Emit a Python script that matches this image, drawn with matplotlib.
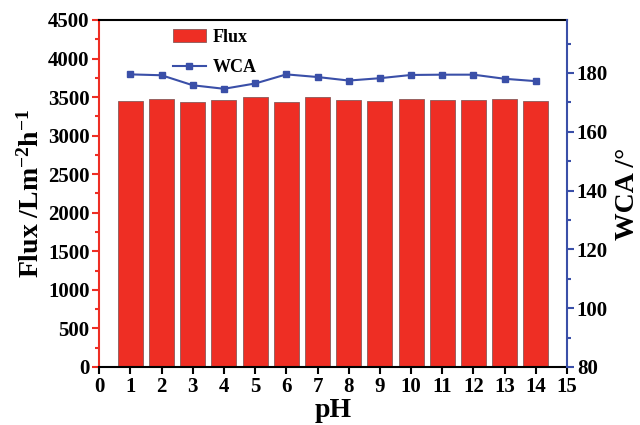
import matplotlib
matplotlib.use("Agg")
import matplotlib.pyplot as plt
from matplotlib.ticker import MultipleLocator

ph = [1, 2, 3, 4, 5, 6, 7, 8, 9, 10, 11, 12, 13, 14]
flux = [3450, 3478, 3441, 3459, 3498, 3441, 3498, 3459, 3450, 3476, 3459, 3459, 3478, 3450]
wca = [179.5, 179.2, 175.8, 174.6, 176.4, 179.5, 178.6, 177.4, 178.2, 179.3, 179.4, 179.4, 178.0, 177.2]

plt.rcParams['font.family'] = ['Liberation Serif', 'DejaVu Serif']
plt.rcParams['font.weight'] = 'bold'
plt.rcParams['mathtext.fontset'] = 'custom'
plt.rcParams['mathtext.rm'] = 'Liberation Serif:bold'
plt.rcParams['mathtext.bf'] = 'Liberation Serif:bold'
plt.rcParams['mathtext.default'] = 'bf'

red = '#EE2E24'
blue = '#3A4FA8'

fig = plt.figure(figsize=(6.4, 4.25), dpi=100)
ax = fig.add_axes([0.155, 0.1365, 0.731, 0.8165])
ax.bar(ph, flux, width=0.8, color=red, edgecolor='#8a5a5a', linewidth=0.6, label='Flux', zorder=2)
ax.set_xlim(0, 15)
ax.set_ylim(0, 4500)
ax.xaxis.set_major_locator(MultipleLocator(1))
ax.yaxis.set_major_locator(MultipleLocator(500))
ax.yaxis.set_minor_locator(MultipleLocator(250))
ax.spines['left'].set_color(red)
ax.spines['left'].set_linewidth(1.5)
ax.spines['bottom'].set_linewidth(1.5)
ax.spines['top'].set_linewidth(1.5)
ax.spines['right'].set_visible(False)
ax.tick_params(axis='y', which='both', colors=red, labelcolor='black', direction='out', width=1.5)
ax.tick_params(axis='y', which='major', length=5, labelsize=15, pad=2)
ax.tick_params(axis='y', which='minor', length=3)
ax.tick_params(axis='x', direction='out', length=5, width=1.5, labelsize=15, pad=2)
ax.set_xlabel('pH', fontsize=20, fontweight='bold', labelpad=1)
ax.set_ylabel('Flux /Lm$^{-2}$h$^{-1}$', fontsize=20, fontweight='bold', labelpad=2)

ax2 = ax.twinx()
ax2.plot(ph, wca, color=blue, marker='s', markersize=5, linewidth=1.5, label='WCA', zorder=3)
ax2.set_ylim(80, 198)
ax2.yaxis.set_major_locator(MultipleLocator(20))
ax2.yaxis.set_minor_locator(MultipleLocator(10))
for s in ['left', 'top', 'bottom']:
    ax2.spines[s].set_visible(False)
ax2.spines['right'].set_color(blue)
ax2.spines['right'].set_linewidth(1.5)
ax2.tick_params(axis='y', which='both', colors=blue, labelcolor='black', direction='out', width=1.5)
ax2.tick_params(axis='y', which='major', length=5, labelsize=15, pad=2)
ax2.tick_params(axis='y', which='minor', length=3)
ax2.set_ylabel('WCA /°', fontsize=20, fontweight='bold', labelpad=5)

h1, l1 = ax.get_legend_handles_labels()
h2, l2 = ax2.get_legend_handles_labels()
ax.legend(h1 + h2, l1 + l2, loc='upper left', bbox_to_anchor=(0.158, 0.975), frameon=False,
          borderpad=0, borderaxespad=0,
          prop={'family': 'Liberation Serif', 'weight': 'bold', 'size': 13},
          handlelength=1.8, handletextpad=0.4, labelspacing=0.75)
fig.savefig('out.png', dpi=100)
